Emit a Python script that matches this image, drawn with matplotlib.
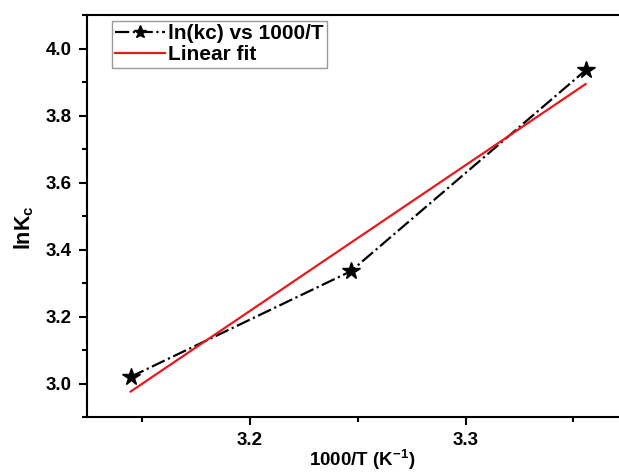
import matplotlib
matplotlib.use('Agg')
import matplotlib.pyplot as plt
import numpy as np
from matplotlib.ticker import MultipleLocator, FormatStrFormatter

plt.rcParams['font.family'] = ['Liberation Sans', 'DejaVu Sans']
plt.rcParams['font.weight'] = 'bold'
plt.rcParams['mathtext.fontset'] = 'custom'
plt.rcParams['mathtext.rm'] = 'Liberation Sans:bold'
plt.rcParams['mathtext.bf'] = 'Liberation Sans:bold'
plt.rcParams['mathtext.default'] = 'bf'

# data
temps = [318, 308, 298]
inv_T = [1000 / t for t in temps]
ln_kc = [3.02, 3.335, 3.935]

slope, icpt = np.polyfit(inv_T, ln_kc, 1)
fit_y = [slope * x + icpt for x in inv_T]

fig = plt.figure(figsize=(6.19, 4.72), dpi=100)
ax = fig.add_axes([0.1406, 0.1165, 0.890, 0.8517])

ax.plot(inv_T, ln_kc, color='black', linestyle='-.', linewidth=1.6,
        marker='*', markersize=13, label='ln(kc) vs 1000/T')
ax.plot(inv_T, fit_y, color='#e8191c', linewidth=1.6, label='Linear fit')

ax.set_xlim(3.1244, 3.3800)
ax.set_ylim(2.9, 4.1)
ax.xaxis.set_major_locator(MultipleLocator(0.1))
ax.xaxis.set_minor_locator(MultipleLocator(0.05))
ax.yaxis.set_major_locator(MultipleLocator(0.2))
ax.yaxis.set_minor_locator(MultipleLocator(0.1))
ax.xaxis.set_major_formatter(FormatStrFormatter('%.1f'))
ax.yaxis.set_major_formatter(FormatStrFormatter('%.1f'))

ax.tick_params(which='major', direction='out', length=6, width=1.5, labelsize=13.5, pad=5)
ax.tick_params(which='minor', direction='out', length=3.5, width=1.5)
ax.tick_params(top=False, right=False, which='both')
for lab in ax.get_xticklabels() + ax.get_yticklabels():
    lab.set_fontweight('bold')
for s in ax.spines.values():
    s.set_linewidth(1.5)

ax.set_xlabel('1000/T (K$^{-1}$)', fontsize=13.5, fontweight='bold', labelpad=-1)
ax.set_ylabel('lnK$_{c}$', fontsize=15.5, fontweight='bold')
ax.yaxis.set_label_coords(-0.093, 0.47)

leg = ax.legend(loc='upper left', bbox_to_anchor=(0.037, 0.995), fancybox=False,
                edgecolor='gray', fontsize=15, handlelength=2.4, borderpad=0.15,
                labelspacing=0.1, handletextpad=0.15, borderaxespad=0.2,
                markerscale=0.75)
for t in leg.get_texts():
    t.set_fontweight('bold')
leg.get_frame().set_linewidth(1.0)

fig.savefig('out.png', dpi=100)
